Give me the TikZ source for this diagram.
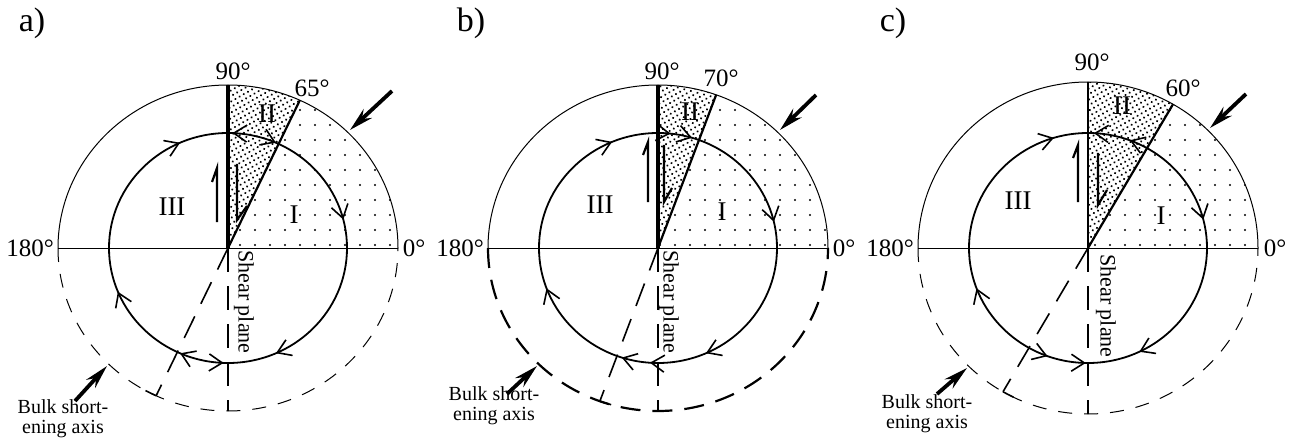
\documentclass[tikz,border=0pt]{standalone}
\usepackage{fontspec}
\setmainfont{Liberation Serif}
\usetikzlibrary{arrows.meta,decorations.markings,patterns.meta}

\tikzset{
  ring/.style={line width=0.5pt},
  ringdash/.style={line width=0.5pt, dash pattern=on 7pt off 6pt},
  ringdashthick/.style={line width=1.1pt, dash pattern=on 10pt off 6pt},
  orbit/.style={line width=0.9pt},
  plane/.style={line width=1.6pt},
  boundary/.style={line width=1.1pt},
  axisdash/.style={line width=0.8pt, dash pattern=on 12pt off 7pt},
  foot/.style={line width=0.8pt},
  harpoon/.style={line width=1.1pt},
  bulk/.style={line width=1.9pt, -{Stealth[length=12pt,width=6pt]}},
  sparse/.style={pattern={Dots[distance=7.5pt,radius=0.55pt]}},
  dense/.style={pattern={Dots[distance=2.4pt,radius=0.58pt,angle=30]}},
  cw/.style={postaction={decorate,decoration={markings,
      mark=at position #1 with {\arrowreversed{Straight Barb[length=6.5pt,width=8.5pt,line width=0.8pt]}}}}},
  ccw/.style={postaction={decorate,decoration={markings,
      mark=at position #1 with {\arrow{Straight Barb[length=6.5pt,width=8.5pt,line width=0.8pt]}}}}},
  deg/.style={font=\fontsize{12.5}{13}\selectfont},
  region/.style={font=\fontsize{13.5}{14}\selectfont},
  panel/.style={font=\fontsize{17}{18}\selectfont},
  note/.style={font=\fontsize{10}{10}\selectfont, align=center, inner sep=0pt},
  planelabel/.style={font=\fontsize{11}{12}\selectfont, rotate=-90, inner sep=0pt},
}

\begin{document}
\begin{tikzpicture}[x=0.5pt,y=0.5pt]
\useasboundingbox (0,0) rectangle (1291,440);

% ---------- a) ----------
\begin{scope}[shift={(228,192)}]
  \coordinate (ao) at (0,0);
  \coordinate (atop) at (0,163);
  \coordinate (abot) at (0,-163);
  \coordinate (aline) at ({170*cos(65)},{163*sin(65)});
  \coordinate (aback) at ({170*cos(245)},{163*sin(245)});
  \coordinate (atip1) at (122,118);
  \coordinate (atail1) at (164,157);
  \coordinate (atip2) at (-121,-118);
  \coordinate (atail2) at (-153,-153);
  \fill[sparse] (ao) -- (170,0) arc[start angle=0,end angle=65,x radius=170,y radius=163] -- cycle;
  \fill[dense] (ao) -- (aline) arc[start angle=65,end angle=90,x radius=170,y radius=163] -- cycle;
  \draw[ring] (170,0) arc[start angle=0,end angle=180,x radius=170,y radius=163];
  \draw[ringdash] (-170,0) arc[start angle=180,end angle=360,x radius=170,y radius=163];
  \draw[ring] (-170,0) -- (170,0);
  \draw[orbit, cw=0.039, cw=0.183, ccw=0.244, cw=0.317, cw=0.561, cw=0.683, ccw=0.744, cw=0.817]
    (ao) ellipse[x radius=119,y radius=115];
  \draw[plane] (ao) -- (atop);
  \draw[boundary] (ao) -- (aline);
  \draw[axisdash] (ao) -- (abot);
  \draw[axisdash] (ao) -- (aback);
  \draw[foot] (aback) arc[start angle=245,end angle=241,x radius=170,y radius=163];
  \draw[harpoon] (-11,26) -- (-11,80) -- (-16,66);
  \draw[harpoon] (9,84) -- (9,28) -- (19,42);
  \draw[bulk] (atail1) -- (atip1);
  \draw[bulk] (atail2) -- (atip2);
  \node[panel] (alabel) at (-196,225) {a)};
  \node[deg] (a90) at (5,177) {90°};
  \node[deg] (a65) at (84,160) {65°};
  \node[deg] (a180) at (-198,0) {180°};
  \node[deg] (a0) at (186,0) {0°};
  \node[region] (aIII) at (-56,41) {III};
  \node[region] (aII) at (39,134) {II};
  \node[region] (aI) at (66,33) {I};
  \node[planelabel] (ashear) at (16,-54) {Shear plane};
  \node[note] (abulk) at (-165,-171) {Bulk short-\\ening axis};
\end{scope}

% ---------- b) ----------
\begin{scope}[shift={(658,192)}]
  \coordinate (bo) at (0,0);
  \coordinate (btop) at (0,163);
  \coordinate (bbot) at (0,-163);
  \coordinate (bline) at ({170*cos(70)},{163*sin(70)});
  \coordinate (bback) at ({170*cos(250)},{163*sin(250)});
  \coordinate (btip1) at (122,118);
  \coordinate (btail1) at (158,153);
  \coordinate (btip2) at (-121,-118);
  \coordinate (btail2) at (-151,-146);
  \fill[sparse] (bo) -- (170,0) arc[start angle=0,end angle=70,x radius=170,y radius=163] -- cycle;
  \fill[dense] (bo) -- (bline) arc[start angle=70,end angle=90,x radius=170,y radius=163] -- cycle;
  \draw[ring] (170,0) arc[start angle=0,end angle=180,x radius=170,y radius=163];
  \draw[ringdashthick] (-170,0) arc[start angle=180,end angle=360,x radius=170,y radius=163];
  \draw[ring] (-170,0) -- (170,0);
  \draw[orbit, cw=0.036, cw=0.203, cw=0.233, cw=0.314, cw=0.556, cw=0.7, cw=0.739, cw=0.817]
    (bo) ellipse[x radius=119,y radius=115];
  \draw[plane] (bo) -- (btop);
  \draw[boundary] (bo) -- (bline);
  \draw[axisdash] (bo) -- (bbot);
  \draw[axisdash] (bo) -- (bback);
  \draw[foot] (bback) arc[start angle=250,end angle=254,x radius=170,y radius=163];
  \draw[harpoon] (-10,46) -- (-10,106) -- (-15,93);
  \draw[harpoon] (6,103) -- (6,46) -- (14,60);
  \draw[bulk] (btail1) -- (btip1);
  \draw[bulk] (btail2) -- (btip2);
  \node[panel] (blabel) at (-187,225) {b)};
  \node[deg] (b90) at (4,177) {90°};
  \node[deg] (b70) at (63,170) {70°};
  \node[deg] (b180) at (-198,0) {180°};
  \node[deg] (b0) at (186,0) {0°};
  \node[region] (bIII) at (-58,43) {III};
  \node[region] (bII) at (32,136) {II};
  \node[region] (bI) at (64,36) {I};
  \node[planelabel] (bshear) at (11,-54) {Shear plane};
  \node[note] (bbulk) at (-164,-158) {Bulk short-\\ening axis};
\end{scope}

% ---------- c) ----------
\begin{scope}[shift={(1088,192)}]
  \coordinate (co) at (0,0);
  \coordinate (ctop) at (0,166);
  \coordinate (cbot) at (0,-166);
  \coordinate (cline) at ({170*cos(60)},{166*sin(60)});
  \coordinate (cback) at ({170*cos(240)},{166*sin(240)});
  \coordinate (ctip1) at (122,120);
  \coordinate (ctail1) at (158,154);
  \coordinate (ctip2) at (-121,-120);
  \coordinate (ctail2) at (-151,-146);
  \fill[sparse] (co) -- (170,0) arc[start angle=0,end angle=60,x radius=170,y radius=166] -- cycle;
  \fill[dense] (co) -- (cline) arc[start angle=60,end angle=90,x radius=170,y radius=166] -- cycle;
  \draw[ring] (170,0) arc[start angle=0,end angle=180,x radius=170,y radius=166];
  \draw[ringdash] (-170,0) arc[start angle=180,end angle=360,x radius=170,y radius=166];
  \draw[ring] (-170,0) -- (170,0);
  \draw[orbit, cw=0.039, ccw=0.192, ccw=0.242, cw=0.297, cw=0.556, ccw=0.694, ccw=0.747, cw=0.822]
    (co) ellipse[x radius=119,y radius=115];
  \draw[boundary] (co) -- (ctop);
  \draw[boundary] (co) -- (cline);
  \draw[axisdash] (co) -- (cbot);
  \draw[axisdash] (co) -- (cback);
  \draw[foot] (cback) arc[start angle=240,end angle=244,x radius=170,y radius=166];
  \draw[harpoon] (-10,46) -- (-10,103) -- (-15,90);
  \draw[harpoon] (10,95) -- (10,43) -- (19,58);
  \draw[bulk] (ctail1) -- (ctip1);
  \draw[bulk] (ctail2) -- (ctip2);
  \node[panel] (clabel) at (-195,225) {c)};
  \node[deg] (c90) at (4,186) {90°};
  \node[deg] (c60) at (95,160) {60°};
  \node[deg] (c180) at (-198,0) {180°};
  \node[deg] (c0) at (187,0) {0°};
  \node[region] (cIII) at (-70,47) {III};
  \node[region] (cII) at (34,142) {II};
  \node[region] (cI) at (73,32) {I};
  \node[planelabel] (cshear) at (18,-58) {Shear plane};
  \node[note] (cbulk) at (-161,-166) {Bulk short-\\ening axis};
\end{scope}
\end{tikzpicture}
\end{document}
